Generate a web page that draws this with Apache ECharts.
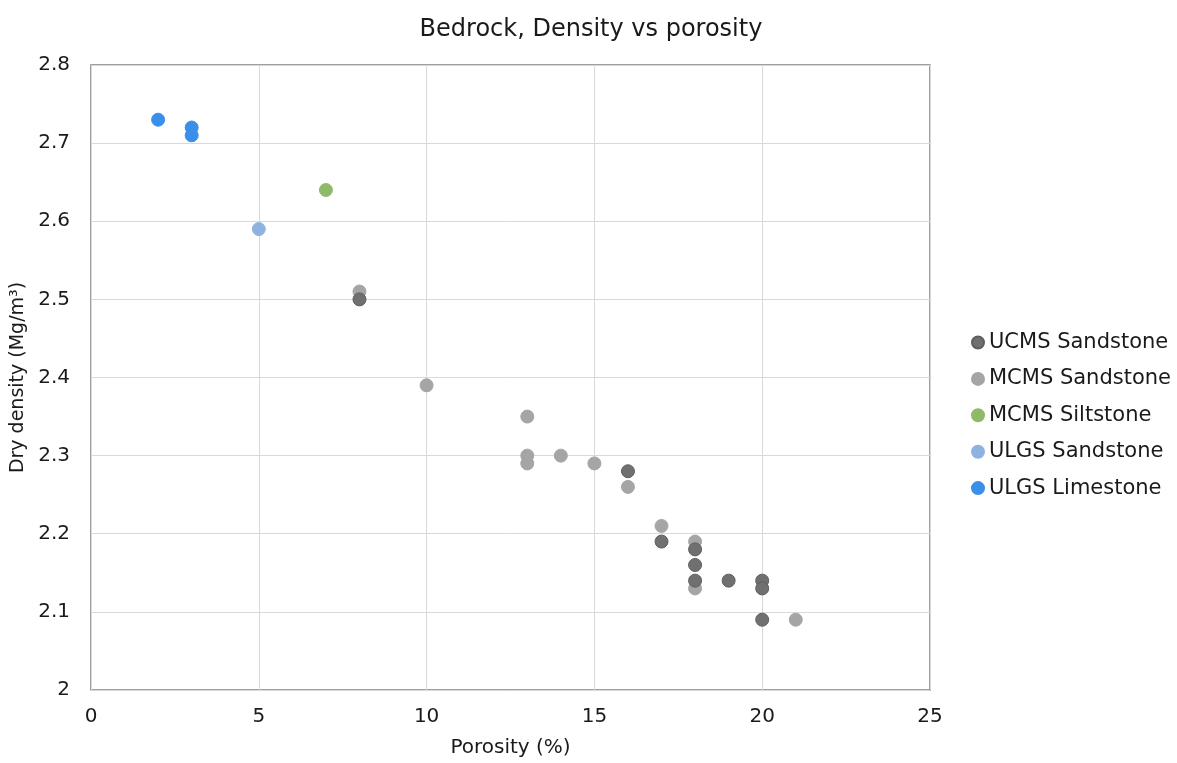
<!DOCTYPE html>
<html>
<head>
<meta charset="utf-8">
<script src="https://cdn.jsdelivr.net/npm/echarts@6/dist/echarts.min.js"></script>
<style>html,body{margin:0;padding:0;background:#fff;}#c{width:1177px;height:763px;}</style>
</head>
<body>
<div id="c"></div>
<script>
const title = 'Bedrock, Density vs porosity';
const xName = 'Porosity (%)';
const yName = 'Dry density (Mg/m³)';
const seriesNames = ['UCMS Sandstone', 'MCMS Sandstone', 'MCMS Siltstone', 'ULGS Sandstone', 'ULGS Limestone'];
const seriesColors = ['#707070', '#a5a5a5', '#8fba6a', '#8fb3e0', '#3a8fe8'];
const ucmsSandstone = [[8,2.50],[16,2.28],[17,2.19],[18,2.18],[18,2.16],[18,2.14],[19,2.14],[20,2.14],[20,2.13],[20,2.09]];
const mcmsSandstone = [[8,2.51],[10,2.39],[13,2.35],[13,2.30],[13,2.29],[14,2.30],[15,2.29],[16,2.26],[17,2.21],[18,2.19],[18,2.13],[21,2.09]];
const mcmsSiltstone = [[7,2.64]];
const ulgsSandstone = [[5,2.59]];
const ulgsLimestone = [[2,2.73],[3,2.72],[3,2.71]];
const allData = [ucmsSandstone, mcmsSandstone, mcmsSiltstone, ulgsSandstone, ulgsLimestone];

const chart = echarts.init(document.getElementById('c'));
const font = 'DejaVu Sans, Liberation Sans, Arial, sans-serif';
chart.setOption({
  animation: false,
  title: { text: title, left: 586, top: 13, textAlign: 'center',
    textStyle: { fontFamily: font, fontSize: 24, fontWeight: 'normal', color: '#1a1a1a' } },
  grid: { left: 91, top: 65, width: 839, height: 625, show: true, borderColor: '#808080', borderWidth: 1.5,
    containLabel: false, outerBoundsMode: 'none' },
  legend: {
    orient: 'vertical', left: 966, top: 327, itemGap: 15.4,
    icon: 'circle', itemWidth: 12, itemHeight: 12,
    textStyle: { fontFamily: font, fontSize: 21, lineHeight: 20, color: '#1a1a1a' },
    data: seriesNames
  },
  xAxis: {
    type: 'value', min: 0, max: 25, interval: 5,
    name: xName, nameLocation: 'middle', nameGap: 48,
    nameTextStyle: { fontFamily: font, fontSize: 20, color: '#1a1a1a' },
    axisLine: { show: false }, axisTick: { show: false },
    axisLabel: { fontFamily: font, fontSize: 20, color: '#1a1a1a', margin: 17 },
    splitLine: { lineStyle: { color: '#d9d9d9', width: 1 } }
  },
  yAxis: {
    type: 'value', min: 2, max: 2.8, interval: 0.1,
    name: yName, nameLocation: 'middle', nameGap: 58,
    nameTextStyle: { fontFamily: font, fontSize: 19, color: '#1a1a1a' },
    axisLine: { show: false }, axisTick: { show: false },
    axisLabel: { fontFamily: font, fontSize: 20, color: '#1a1a1a', margin: 21,
      formatter: v => String(Math.round(v * 10) / 10) },
    splitLine: { lineStyle: { color: '#d9d9d9', width: 1 } }
  },
  series: seriesNames.map((n, i) => ({
    name: n, type: 'scatter', data: allData[i], symbolSize: 13,
    itemStyle: { color: seriesColors[i], opacity: 1,
      borderColor: i === 0 ? '#5e5e5e' : seriesColors[i], borderWidth: 1 },
    z: i === 0 ? 3 : 2
  }))
});
</script>
</body>
</html>
